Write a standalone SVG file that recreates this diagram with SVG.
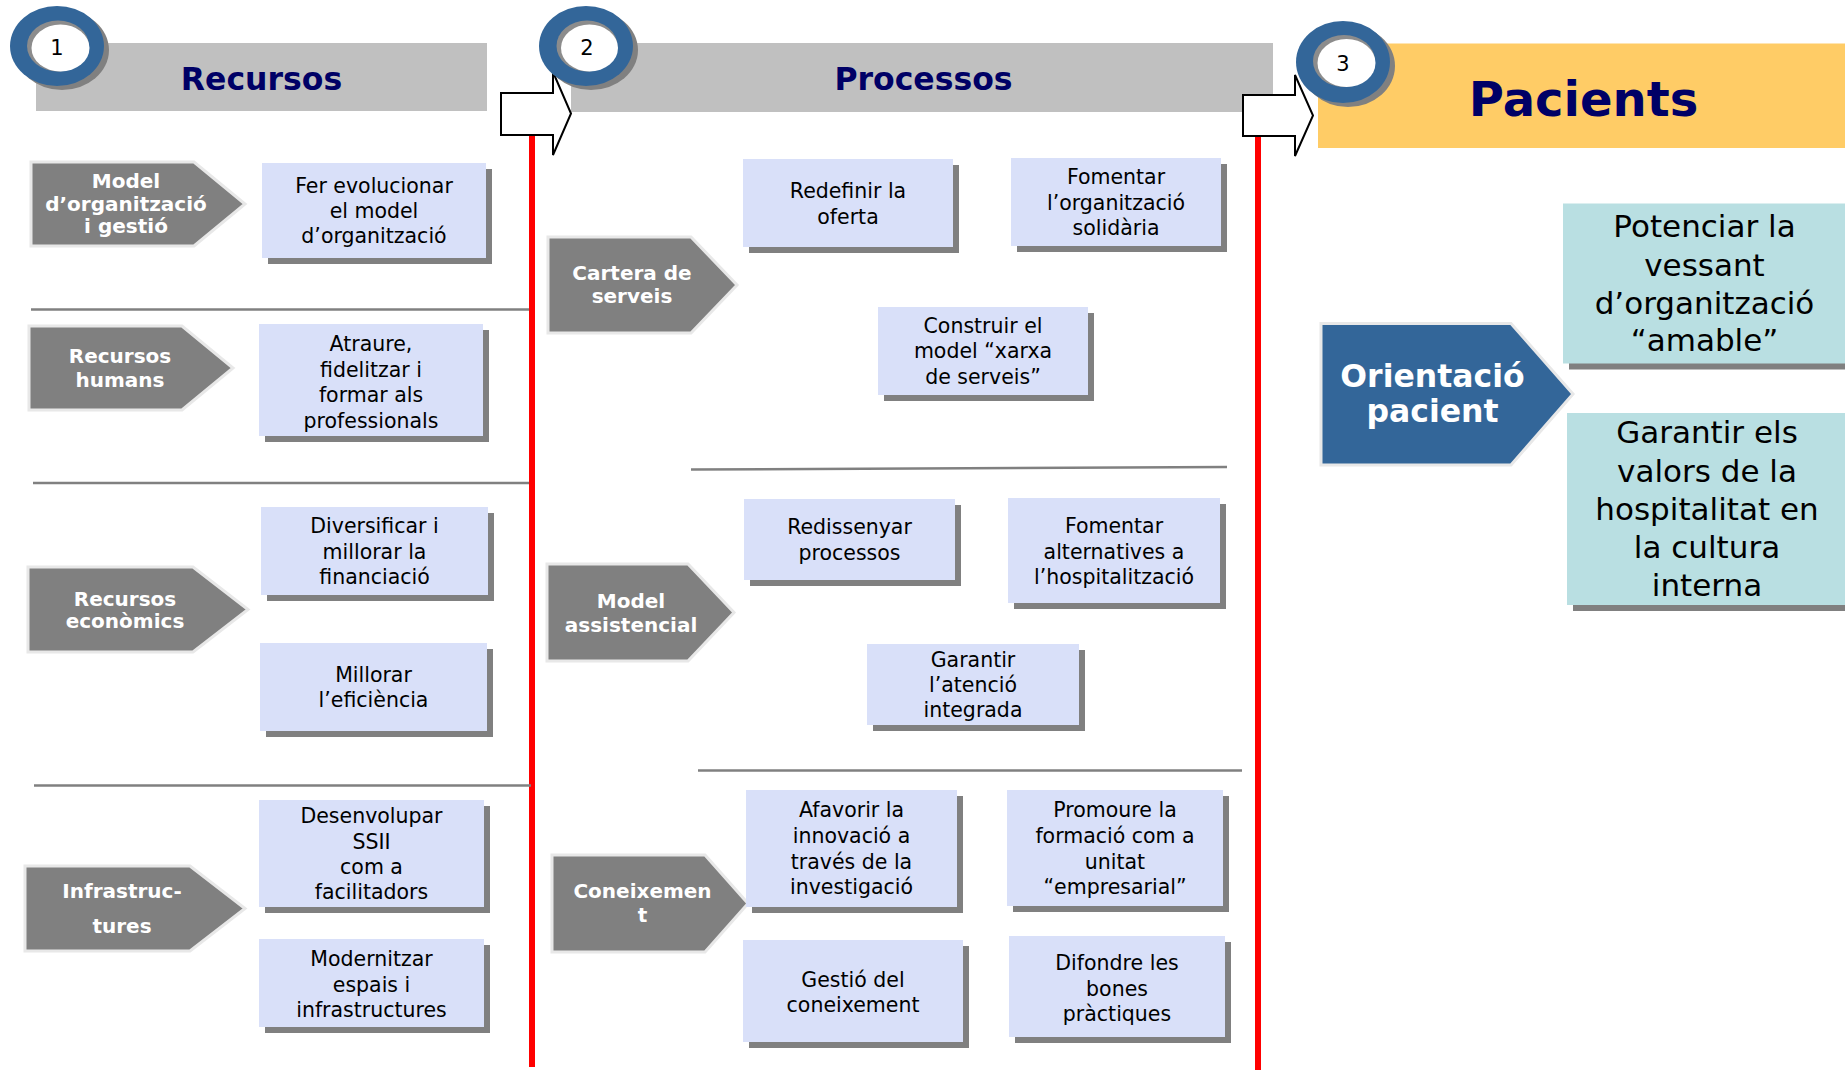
<svg xmlns="http://www.w3.org/2000/svg" width="1845" height="1070" viewBox="0 0 1845 1070">
<style>
.bar{fill:#C0C0C0}
.ht{font-family:"DejaVu Sans",Verdana,sans-serif;font-weight:bold;fill:#000066;text-anchor:middle}
.ring{fill:#336699}
.rsh{fill:#808080}
.hole{fill:#8C8C8C}
.white{fill:#FFFFFF}
.num{font-family:"DejaVu Sans",Verdana,sans-serif;font-size:21px;fill:#000;text-anchor:middle}
.cat{fill:#808080;stroke:#E8E8E8;stroke-width:3}
.catb{fill:#336699;stroke:#E8E8E8;stroke-width:3}
.at{font-family:"DejaVu Sans",Verdana,sans-serif;font-weight:bold;font-size:20px;fill:#FFFFFF;text-anchor:middle}
.atb{font-family:"DejaVu Sans",Verdana,sans-serif;font-weight:bold;font-size:31.5px;fill:#FFFFFF;text-anchor:middle}
.box{fill:#D9E0F9}
.tbox{fill:#B9DFE2}
.sh{fill:#808080}
.bt{font-family:"DejaVu Sans",Verdana,sans-serif;font-size:20.5px;fill:#000;text-anchor:middle}
.bt2{font-family:"DejaVu Sans",Verdana,sans-serif;font-size:31px;fill:#000;text-anchor:middle}
.sep{stroke:#808080;stroke-width:2.5;fill:none}
.red{stroke:#FF0000;stroke-width:6;fill:none}
.barrow{fill:#FFFFFF;stroke:#000;stroke-width:2;stroke-linejoin:miter}
</style>

<!-- Headers -->
<g id="header-recursos">
  <rect class="bar" x="36" y="43" width="451" height="68"/>
  <text class="ht" x="261.5" y="89.5" font-size="31.5">Recursos</text>
</g>
<g id="header-processos">
  <rect class="bar" x="571" y="43" width="702" height="69"/>
  <text class="ht" x="923.5" y="89.5" font-size="31.5">Processos</text>
</g>
<g id="header-pacients">
  <rect x="1318" y="43.5" width="527" height="104.5" fill="#FFCC66"/>
  <text class="ht" x="1583.5" y="115.5" font-size="48">Pacients</text>
</g>

<!-- Connectors -->
<g id="connectors">
  <line class="red" x1="532" y1="135" x2="532" y2="1067"/>
  <line class="red" x1="1258" y1="136" x2="1258" y2="1070"/>
  <path class="barrow" d="M501,93 H553 V72 L571,113.5 L553,155 V135 H501 Z"/>
  <path class="barrow" d="M1243,95 H1295 V75 L1313,115.5 L1295,156 V136 H1243 Z"/>
</g>

<!-- Step circles -->
<g id="step-1">
  <ellipse class="rsh" cx="62" cy="50" rx="47" ry="40"/>
  <ellipse class="ring" cx="57" cy="46" rx="47" ry="40"/>
  <ellipse class="hole" cx="58" cy="46" rx="31" ry="25.5"/>
  <ellipse class="white" cx="60.5" cy="48" rx="29" ry="23.5"/>
  <text class="num" x="57" y="55">1</text>
</g>
<g id="step-2">
  <ellipse class="rsh" cx="591" cy="50" rx="47" ry="40"/>
  <ellipse class="ring" cx="586" cy="46" rx="47" ry="40"/>
  <ellipse class="hole" cx="587" cy="46" rx="30.5" ry="25.5"/>
  <ellipse class="white" cx="589.5" cy="48" rx="28.5" ry="23.5"/>
  <text class="num" x="587" y="55">2</text>
</g>
<g id="step-3">
  <ellipse class="rsh" cx="1348" cy="66" rx="47" ry="41"/>
  <ellipse class="ring" cx="1343" cy="62" rx="47" ry="41"/>
  <ellipse class="hole" cx="1344" cy="61" rx="31" ry="26"/>
  <ellipse class="white" cx="1346.5" cy="63" rx="29" ry="24"/>
  <text class="num" x="1343" y="71">3</text>
</g>

<!-- Dividers -->
<g id="dividers">
  <line class="sep" x1="31" y1="309.5" x2="529" y2="309.5"/>
  <line class="sep" x1="33" y1="483" x2="529" y2="483"/>
  <line class="sep" x1="34" y1="785.5" x2="531" y2="785.5"/>
  <line class="sep" x1="691" y1="469.5" x2="1227" y2="467"/>
  <line class="sep" x1="698" y1="770.5" x2="1242" y2="770.5"/>
</g>

<!-- Left column categories -->
<g id="cat-model-organitzacio">
  <path class="cat" d="M31,162 H194 L245,204 L194,246 H31 Z"/>
  <text class="at" x="126" y="187.7">Model</text>
  <text class="at" x="126" y="210.7">d’organització</text>
  <text class="at" x="126" y="233">i gestió</text>
</g>
<g id="cat-recursos-humans">
  <path class="cat" d="M29,326 H182 L233,368 L182,410 H29 Z"/>
  <text class="at" x="120" y="363">Recursos</text>
  <text class="at" x="120" y="386.7">humans</text>
</g>
<g id="cat-recursos-economics">
  <path class="cat" d="M28,567 H193 L248,609.5 L193,652 H28 Z"/>
  <text class="at" x="125" y="606">Recursos</text>
  <text class="at" x="125" y="628.3">econòmics</text>
</g>
<g id="cat-infrastructures">
  <path class="cat" d="M25,866 H190 L245,908.5 L190,951 H25 Z"/>
  <text class="at" x="122" y="897.7">Infrastruc-</text>
  <text class="at" x="122" y="933.3">tures</text>
</g>

<!-- Left column boxes -->
<g id="box-fer-evolucionar">
  <rect class="sh" x="268" y="169" width="224" height="95"/>
  <rect class="box" x="262" y="163" width="224" height="95"/>
  <text class="bt" x="374" y="193">Fer evolucionar</text>
  <text class="bt" x="374" y="218">el model</text>
  <text class="bt" x="374" y="243">d’organització</text>
</g>
<g id="box-atraure">
  <rect class="sh" x="265" y="330" width="224" height="112"/>
  <rect class="box" x="259" y="324" width="224" height="112"/>
  <text class="bt" x="371" y="351">Atraure,</text>
  <text class="bt" x="371" y="376.5">fidelitzar i</text>
  <text class="bt" x="371" y="402">formar als</text>
  <text class="bt" x="371" y="427.5">professionals</text>
</g>
<g id="box-diversificar">
  <rect class="sh" x="267" y="513" width="227" height="88"/>
  <rect class="box" x="261" y="507" width="227" height="88"/>
  <text class="bt" x="374.5" y="533.3">Diversificar i</text>
  <text class="bt" x="374.5" y="559">millorar la</text>
  <text class="bt" x="374.5" y="584.3">financiació</text>
</g>
<g id="box-millorar-eficiencia">
  <rect class="sh" x="266" y="649" width="227" height="88"/>
  <rect class="box" x="260" y="643" width="227" height="88"/>
  <text class="bt" x="373.5" y="681.7">Millorar</text>
  <text class="bt" x="373.5" y="707.3">l’eficiència</text>
</g>
<g id="box-desenvolupar">
  <rect class="sh" x="265" y="806" width="225" height="107"/>
  <rect class="box" x="259" y="800" width="225" height="107"/>
  <text class="bt" x="371.5" y="823.3">Desenvolupar</text>
  <text class="bt" x="371.5" y="849">SSII</text>
  <text class="bt" x="371.5" y="874">com a</text>
  <text class="bt" x="371.5" y="899.3">facilitadors</text>
</g>
<g id="box-modernitzar">
  <rect class="sh" x="265" y="945" width="225" height="88"/>
  <rect class="box" x="259" y="939" width="225" height="88"/>
  <text class="bt" x="371.5" y="966">Modernitzar</text>
  <text class="bt" x="371.5" y="991.7">espais i</text>
  <text class="bt" x="371.5" y="1016.7">infrastructures</text>
</g>

<!-- Middle column categories -->
<g id="cat-cartera-serveis">
  <path class="cat" d="M548,237 H691 L737,285 L691,333 H548 Z"/>
  <text class="at" x="632" y="280">Cartera de</text>
  <text class="at" x="632" y="303.3">serveis</text>
</g>
<g id="cat-model-assistencial">
  <path class="cat" d="M547,564 H688 L734,612.5 L688,661 H547 Z"/>
  <text class="at" x="631" y="607.7">Model</text>
  <text class="at" x="631" y="631.7">assistencial</text>
</g>
<g id="cat-coneixement">
  <path class="cat" d="M552,855 H705 L748,903.5 L705,952 H552 Z"/>
  <text class="at" x="642.5" y="898.3">Coneixemen</text>
  <text class="at" x="642.5" y="921.7">t</text>
</g>

<!-- Middle column boxes -->
<g id="box-redefinir">
  <rect class="sh" x="749" y="165" width="210" height="88"/>
  <rect class="box" x="743" y="159" width="210" height="88"/>
  <text class="bt" x="848" y="198.3">Redefinir la</text>
  <text class="bt" x="848" y="224">oferta</text>
</g>
<g id="box-fomentar-solidaria">
  <rect class="sh" x="1017" y="164" width="210" height="88"/>
  <rect class="box" x="1011" y="158" width="210" height="88"/>
  <text class="bt" x="1116" y="184.3">Fomentar</text>
  <text class="bt" x="1116" y="210">l’organització</text>
  <text class="bt" x="1116" y="235">solidària</text>
</g>
<g id="box-construir">
  <rect class="sh" x="884" y="313" width="210" height="88"/>
  <rect class="box" x="878" y="307" width="210" height="88"/>
  <text class="bt" x="983" y="333.3">Construir el</text>
  <text class="bt" x="983" y="358.3">model “xarxa</text>
  <text class="bt" x="983" y="384">de serveis”</text>
</g>
<g id="box-redissenyar">
  <rect class="sh" x="750" y="505" width="211" height="81"/>
  <rect class="box" x="744" y="499" width="211" height="81"/>
  <text class="bt" x="849.5" y="534.3">Redissenyar</text>
  <text class="bt" x="849.5" y="560">processos</text>
</g>
<g id="box-fomentar-alternatives">
  <rect class="sh" x="1014" y="504" width="212" height="105"/>
  <rect class="box" x="1008" y="498" width="212" height="105"/>
  <text class="bt" x="1114" y="533.3">Fomentar</text>
  <text class="bt" x="1114" y="559">alternatives a</text>
  <text class="bt" x="1114" y="584.3">l’hospitalització</text>
</g>
<g id="box-garantir-atencio">
  <rect class="sh" x="873" y="650" width="212" height="81"/>
  <rect class="box" x="867" y="644" width="212" height="81"/>
  <text class="bt" x="973" y="666.7">Garantir</text>
  <text class="bt" x="973" y="691.7">l’atenció</text>
  <text class="bt" x="973" y="717.3">integrada</text>
</g>
<g id="box-afavorir">
  <rect class="sh" x="752" y="796" width="211" height="117"/>
  <rect class="box" x="746" y="790" width="211" height="117"/>
  <text class="bt" x="851.5" y="817.3">Afavorir la</text>
  <text class="bt" x="851.5" y="843.3">innovació a</text>
  <text class="bt" x="851.5" y="868.7">través de la</text>
  <text class="bt" x="851.5" y="894">investigació</text>
</g>
<g id="box-promoure">
  <rect class="sh" x="1013" y="796" width="216" height="116"/>
  <rect class="box" x="1007" y="790" width="216" height="116"/>
  <text class="bt" x="1115" y="817.3">Promoure la</text>
  <text class="bt" x="1115" y="843.3">formació com a</text>
  <text class="bt" x="1115" y="868.7">unitat</text>
  <text class="bt" x="1115" y="894">“empresarial”</text>
</g>
<g id="box-gestio-coneixement">
  <rect class="sh" x="749" y="946" width="220" height="102"/>
  <rect class="box" x="743" y="940" width="220" height="102"/>
  <text class="bt" x="853" y="986.7">Gestió del</text>
  <text class="bt" x="853" y="1012.3">coneixement</text>
</g>
<g id="box-difondre">
  <rect class="sh" x="1015" y="942" width="216" height="101"/>
  <rect class="box" x="1009" y="936" width="216" height="101"/>
  <text class="bt" x="1117" y="970">Difondre les</text>
  <text class="bt" x="1117" y="996">bones</text>
  <text class="bt" x="1117" y="1021">pràctiques</text>
</g>

<!-- Right column -->
<g id="cat-orientacio-pacient">
  <path class="catb" d="M1321,323.5 H1511 L1573,394 L1511,465 H1321 Z"/>
  <text class="atb" x="1432.5" y="386.7">Orientació</text>
  <text class="atb" x="1432.5" y="422.3">pacient</text>
</g>
<g id="box-potenciar">
  <rect class="sh" x="1569" y="209.5" width="290" height="160"/>
  <rect class="tbox" x="1563" y="203.5" width="290" height="160"/>
  <text class="bt2" x="1704.5" y="237.2">Potenciar la</text>
  <text class="bt2" x="1704.5" y="275.6">vessant</text>
  <text class="bt2" x="1704.5" y="313.6">d’organització</text>
  <text class="bt2" x="1704.5" y="351">“amable”</text>
</g>
<g id="box-garantir-valors">
  <rect class="sh" x="1573" y="419" width="290" height="192"/>
  <rect class="tbox" x="1567" y="413" width="290" height="192"/>
  <text class="bt2" x="1707" y="442.9">Garantir els</text>
  <text class="bt2" x="1707" y="481.6">valors de la</text>
  <text class="bt2" x="1707" y="520">hospitalitat en</text>
  <text class="bt2" x="1707" y="557.5">la cultura</text>
  <text class="bt2" x="1707" y="596.3">interna</text>
</g>
</svg>
